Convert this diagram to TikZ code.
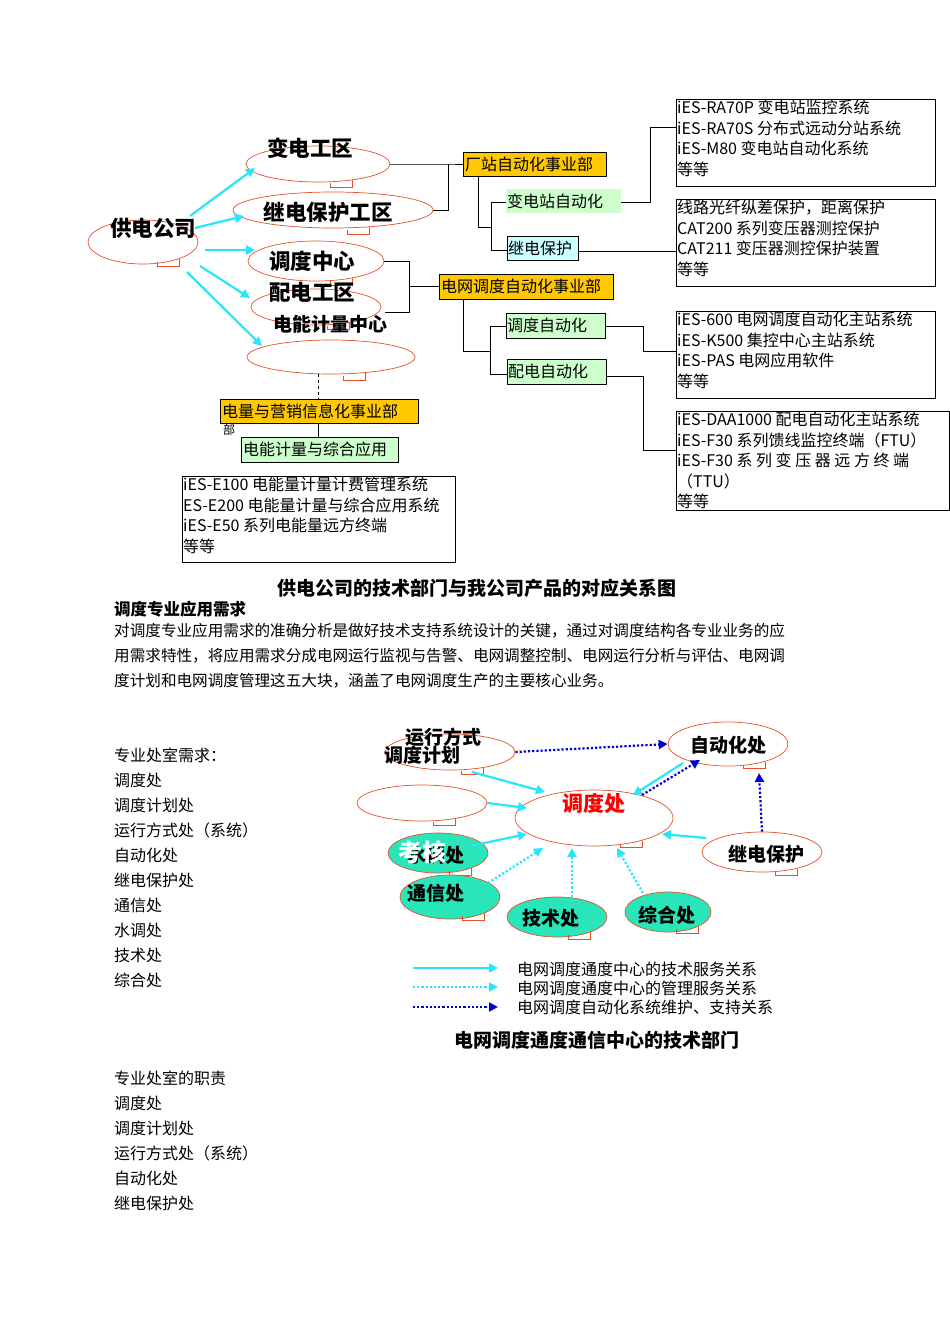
\documentclass[tikz,border=0pt]{standalone}
\usepackage{fontspec}
\setmainfont{Noto Sans CJK SC}
\usetikzlibrary{shapes.geometric,arrows.meta}
\definecolor{cy}{RGB}{40,230,250}
\definecolor{bl}{RGB}{0,0,210}
\definecolor{gold}{RGB}{255,200,0}
\definecolor{pg}{RGB}{204,255,204}
\definecolor{pc}{RGB}{204,255,255}
\definecolor{tq}{RGB}{40,230,185}
\definecolor{ored}{RGB}{230,80,40}
\tikzset{
 bub/.style={ellipse,draw=ored,line width=0.7pt,inner sep=0},
 gbox/.style={draw=black,fill=gold,line width=0.8pt,inner sep=0,anchor=north west},
 pbox/.style={draw=black,fill=pg,line width=0.8pt,inner sep=0,anchor=north west},
 lbox/.style={draw=black,line width=0.8pt,anchor=north west},
 ln/.style={line width=0.8pt},
 ca/.style={cy,line width=2.2pt,-{Triangle[length=9pt,width=9pt]}},
 cd/.style={cy,line width=2.2pt,dotted,-{Triangle[length=9pt,width=9pt]}},
 bd/.style={bl,line width=2.2pt,dotted,-{Triangle[length=9pt,width=9pt]}},
 t/.style={inner sep=0,font=\fontsize{16}{20.5}\selectfont,align=left},
 tl/.style={t,anchor=west},
 big/.style={inner sep=0,font=\fontsize{21.5}{23}\selectfont\bfseries},
 mid/.style={inner sep=0,font=\fontsize{19}{21}\selectfont\bfseries},
}
\newcommand\tail[1]{\draw[ored,line width=0.7pt] (#1.-25) -- ++(0,7) -- ++(-22,0) -- ++(0,-4);}
\begin{document}
\begin{tikzpicture}[x=1pt,y=-1pt]
\useasboundingbox[fill=white] (0,0) rectangle (950,1344);
% ---------- top diagram
\node[bub,minimum width=110,minimum height=44] (gd) at (143,242) {}; \tail{gd}
\node[big] (gdt) at (153,228) {供电公司};
\node[bub,minimum width=144,minimum height=36] (bd) at (318,164) {}; \tail{bd}
\node[big] (bdt) at (310,148) {变电工区};
\node[bub,minimum width=200,minimum height=36] (jd) at (333,210) {}; \tail{jd}
\node[big] (jdt) at (328,212) {继电保护工区};
\node[bub,minimum width=136,minimum height=40] (dd) at (316,261) {}; \tail{dd}
\node[big] (ddt) at (312,261) {调度中心};
\node[bub,minimum width=130,minimum height=36] (pd) at (316,307) {}; \tail{pd}
\node[big] (pdt) at (312,292) {配电工区};
\node[mid] (jl) at (330,324) {电能计量中心};
\node[bub,minimum width=168,minimum height=34] (em) at (331,357) {}; \tail{em}
\coordinate (a1) at (190,216); \coordinate (b1) at (255,168);
\coordinate (a2) at (195,228); \coordinate (b2) at (244,216);
\coordinate (a3) at (205,250); \coordinate (b3) at (255,250);
\coordinate (a4) at (200,266); \coordinate (b4) at (250,298);
\coordinate (a5) at (187,272); \coordinate (b5) at (262,346);
\foreach \i in {1,...,5} \draw[ca] (a\i) -- (b\i);
% boxes
\node[gbox,minimum width=143,minimum height=24] (cz) at (463,152) {};
\node[tl] at (465,164) {厂站自动化事业部};
\node[fill=pg,inner sep=0,anchor=north west,minimum width=115,minimum height=24] (bz) at (506,189) {};
\node[tl] at (507,201) {变电站自动化};
\node[draw=black,fill=pc,line width=0.8pt,inner sep=0,anchor=north west,minimum width=71,minimum height=24] (jb) at (507,236) {};
\node[tl] at (508,248) {继电保护};
\node[gbox,minimum width=174,minimum height=25] (dw) at (439,274) {};
\node[tl] at (441,286) {电网调度自动化事业部};
\node[pbox,minimum width=99,minimum height=25] (dz) at (506,313) {};
\node[tl] at (507,325) {调度自动化};
\node[pbox,minimum width=99,minimum height=25] (pz) at (507,359) {};
\node[tl] at (508,371) {配电自动化};
\node[lbox,minimum width=259,minimum height=87] (r1) at (676,99) {};
\node[t,anchor=north west] at (677,100) {iES-RA70P 变电站监控系统\\iES-RA70S 分布式远动分站系统\\iES-M80 变电站自动化系统\\等等};
\node[lbox,minimum width=259,minimum height=87] (r2) at (676,199) {};
\node[t,anchor=north west] at (677,200) {线路光纤纵差保护，距离保护\\CAT200 系列变压器测控保护\\CAT211 变压器测控保护装置\\等等};
\node[lbox,minimum width=259,minimum height=87] (r3) at (676,311) {};
\node[t,anchor=north west] at (677,312) {iES-600 电网调度自动化主站系统\\iES-K500 集控中心主站系统\\iES-PAS 电网应用软件\\等等};
\node[lbox,minimum width=273,minimum height=99] (r4) at (676,411) {};
\node[t,anchor=north west] at (677,412) {iES-DAA1000 配电自动化主站系统\\iES-F30 系列馈线监控终端（FTU）\\iES-F30 系 列 变 压 器 远 方 终 端\\（TTU）\\等等};
\node[gbox,minimum width=198,minimum height=24] (dl) at (220,399) {};
\node[tl] at (222,411) {电量与营销信息化事业部};
\node[inner sep=0,font=\fontsize{12}{12}\selectfont] (bu) at (229,430) {部};
\node[pbox,minimum width=157,minimum height=25] (dn) at (241,437) {};
\node[tl] at (243,449) {电能计量与综合应用};
\node[lbox,minimum width=273,minimum height=86] (r5) at (182,476) {};
\node[t,anchor=north west] at (183,477) {iES-E100 电能量计量计费管理系统\\ES-E200 电能量计量与综合应用系统\\iES-E50 系列电能量远方终端\\等等};
% connectors
\draw[ln] (bd.east) -- (448,164) -- (463,164);
\draw[ln] (jd.east) -| (448,164);
\draw[ln] (478,176) -- (478,227) -- (491,227);
\draw[ln] (506,202) -- (491,202) -- (491,250) -- (507,250);
\draw[ln] (621,202) -- (650,202) -- (650,127) -- (676,127);
\draw[ln] (578,251) -- (676,251);
\draw[ln] (dd.east) -- (409,261) -- (409,312) -- (385,312);
\draw[ln] (409,286) -- (439,286);
\draw[ln] (463,299) -- (463,351) -- (490,351);
\draw[ln] (506,326) -- (490,326) -- (490,374) -- (507,374);
\draw[ln] (605,326) -- (643,326) -- (643,351) -- (676,351);
\draw[ln] (606,376) -- (643,376) -- (643,450) -- (676,450);
\draw[ln,dashed] (318,374) -- (318,399);
\draw[ln] (318,423) -- (318,437);
% texts
\node[inner sep=0,font=\fontsize{19}{21}\selectfont\bfseries] (c1) at (477,588) {供电公司的技术部门与我公司产品的对应关系图};
\node[inner sep=0,anchor=west,font=\fontsize{16.5}{18}\selectfont\bfseries] (h1) at (114,609) {调度专业应用需求};
\node[t,anchor=north west,font=\fontsize{15.6}{25}\selectfont] (p1) at (114,623) {对调度专业应用需求的准确分析是做好技术支持系统设计的关键，通过对调度结构各专业业务的应\\用需求特性，将应用需求分成电网运行监视与告警、电网调整控制、电网运行分析与评估、电网调\\度计划和电网调度管理这五大块，涵盖了电网调度生产的主要核心业务。};
\node[t,anchor=north west,font=\fontsize{16}{25}\selectfont] (l1) at (114,748) {专业处室需求：\\调度处\\调度计划处\\运行方式处（系统）\\自动化处\\继电保护处\\通信处\\水调处\\技术处\\综合处};
\node[t,anchor=north west,font=\fontsize{16}{25}\selectfont] (l2) at (114,1071) {专业处室的职责\\调度处\\调度计划处\\运行方式处（系统）\\自动化处\\继电保护处};
% ---------- second diagram
\node[bub,minimum width=130,minimum height=36] (yx) at (450,752) {}; \tail{yx}
\node[mid] at (443,737) {运行方式};
\node[mid] at (422,755) {调度计划};
\node[bub,minimum width=120,minimum height=44] (zd) at (728,744) {}; \tail{zd}
\node[mid] at (728,745) {自动化处};
\node[bub,minimum width=158,minimum height=56] (dc) at (594,818) {}; \tail{dc}
\node[inner sep=0,text=red,font=\fontsize{21}{23}\selectfont\bfseries] at (594,803) {调度处};
\node[bub,minimum width=130,minimum height=36] (ee) at (422,803) {}; \tail{ee}
\node[bub,fill=tq,minimum width=100,minimum height=40] (sd) at (438,853) {}; \tail{sd}
\node[mid] at (436,855) {水调处};
\node[inner sep=0,text=white,font=\fontsize{24}{24}\selectfont\bfseries] at (422,852) {考核};
\node[bub,fill=tq,minimum width=100,minimum height=44] (tx) at (450,897) {}; \tail{tx}
\node[mid] at (436,893) {通信处};
\node[bub,fill=tq,minimum width=100,minimum height=40] (js) at (557,917) {}; \tail{js}
\node[mid] at (551,918) {技术处};
\node[bub,fill=tq,minimum width=86,minimum height=40] (zh) at (668,912) {}; \tail{zh}
\node[mid] at (667,915) {综合处};
\node[bub,minimum width=120,minimum height=40] (jb2) at (762,852) {}; \tail{jb2}
\node[mid] at (766,854) {继电保护};
\draw[bd] (yx.east) -- (zd.west);
\draw[ca] (472,772) -- (545,792);
\draw[ca] (ee.east) -- (527,808);
\draw[ca] (470,846) -- (527,834);
\draw[cd] (488,883) -- (543,848);
\draw[cd] (572,897) -- (572,848);
\draw[cd] (643,893) -- (617,848);
\draw[ca] (706,838) -- (662,834);
\draw[bd] (jb2.north) -- (759,773);
\draw[ca] (683,763) -- (633,795);
\draw[bd] (642,795) -- (700,760);
% legend
\coordinate (g1) at (413,968); \coordinate (h1e) at (498,968);
\coordinate (g2) at (413,987); \coordinate (h2e) at (498,987);
\coordinate (g3) at (413,1007); \coordinate (h3e) at (498,1007);
\draw[ca] (g1) -- (h1e); \draw[cd] (g2) -- (h2e); \draw[bd] (g3) -- (h3e);
\node[tl] at (517,969) {电网调度通度中心的技术服务关系};
\node[tl] at (517,988) {电网调度通度中心的管理服务关系};
\node[tl] at (517,1007) {电网调度自动化系统维护、支持关系};
\node[inner sep=0,font=\fontsize{19}{21}\selectfont\bfseries] (c2) at (597,1040) {电网调度通度通信中心的技术部门};
\end{tikzpicture}
\end{document}
